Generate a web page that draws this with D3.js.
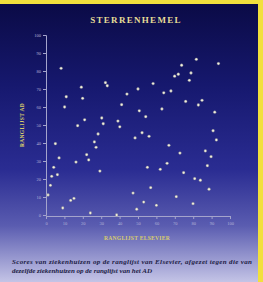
<!DOCTYPE html>
<html>
<head>
<meta charset="utf-8">
<script src="https://cdn.jsdelivr.net/npm/d3@7"></script>
<style>
  body { margin: 0; padding: 0; overflow: hidden; }
  svg { display: block; }
</style>
</head>
<body>
<script>
// ranglijst Elsevier (x) tegen ranglijst AD (y)
let elsevier = [8.2, 19.2, 11, 19.9, 10.1, 32.3, 33.3, 44, 41.1, 50, 50.7, 21, 30.3, 39.1, 31.1, 17.2, 40.1, 28.3,
  81.7, 93.7, 73.7, 71.9, 69.9, 78.8, 77.9, 58.2, 64, 67.9, 75.9, 84.8, 82.8, 91.7, 63, 54.2, 90.8, 52.2, 56, 48.4,
  92.6, 66.8, 72.8, 86.6, 89.7, 65.8, 55.1, 62.1, 87.7, 74.8, 80.8, 83.9, 56.9, 88.6, 70.8, 53.1, 60, 79.9, 49.3, 47.3,
  5.1, 26.3, 27.2, 22.1, 23.2, 16.3, 7.1, 4.2, 6.2, 3.1, 2.4, 1.1, 29.3, 9.1, 13.4, 15.2, 24.1, 38.4]
let ad = [81.5, 71, 65.7, 64.8, 60, 73.5, 71.8, 67.2, 61.3, 70, 57.9, 52.9, 53.9, 52.2, 50.7, 49.6, 49, 45,
  86.5, 84.1, 83.2, 78.2, 77.1, 78.9, 74.8, 73, 67.9, 68.9, 63.1, 63.7, 61.1, 57.1, 58.9, 54.6, 46.8, 45.7, 43.7, 42.8,
  41.7, 38.7, 34.4, 35.6, 32.4, 28.7, 26.5, 25.4, 27.4, 23.5, 20.2, 19.3, 15.2, 14.3, 10.2, 7.2, 5.4, 6.3, 3.2, 12.2,
  39.6, 40.6, 37.6, 33.5, 30.6, 29.4, 31.7, 26.5, 22.4, 21.5, 16.5, 11.1, 24.4, 3.9, 8.1, 9.2, 1.1, 0]
let ticks = [0, 10, 20, 30, 40, 50, 60, 70, 80, 90, 100]

let title = 'STERRENHEMEL'
let xTitle = 'RANGLIJST ELSEVIER'
let yTitle = 'RANGLIJST AD'
let caption = ['Scores van ziekenhuizen op de ranglijst van Elsevier, afgezet tegen die van',
  'dezelfde ziekenhuizen op de ranglijst van het AD']

let w = 263, h = 282
let serif = '"Liberation Serif", "DejaVu Serif", serif'

let svg = d3.select('body').append('svg')
  .attr('width', w)
  .attr('height', h)

let defs = svg.append('defs')
let grad = defs.append('linearGradient')
  .attr('id', 'bg')
  .attr('x1', 0).attr('y1', 0).attr('x2', 0).attr('y2', 1)
grad.selectAll('stop')
  .data([[0, '#0a0a44'], [0.3, '#16186e'], [0.6, '#2a2c92'], [0.8, '#5a5cb0'], [1, '#c4c4e6']])
  .enter().append('stop')
  .attr('offset', d => d[0])
  .attr('stop-color', d => d[1])

svg.append('rect')
  .attr('width', w).attr('height', h)
  .attr('fill', 'url(#bg)')

// gele rand
svg.append('rect').attr('x', 0).attr('y', 0).attr('width', w).attr('height', 4).attr('fill', '#f2e03c')
svg.append('rect').attr('x', 258).attr('y', 0).attr('width', 5).attr('height', h).attr('fill', '#f2e03c')

svg.append('text')
  .attr('x', 136).attr('y', 23)
  .attr('text-anchor', 'middle')
  .attr('font-family', serif)
  .attr('font-weight', 'bold')
  .attr('font-size', 9)
  .attr('letter-spacing', 1.3)
  .attr('fill', '#e6dc96')
  .text(title)

let x = d3.scaleLinear().domain([0, 100]).range([46, 230])
let y = d3.scaleLinear().domain([0, 100]).range([215, 35])

let axisColor = '#a4a4cc'

let gy = svg.append('g')
  .attr('transform', 'translate(46,0)')
  .call(d3.axisLeft(y).tickValues(ticks).tickSize(3).tickPadding(2))
let gx = svg.append('g')
  .attr('transform', 'translate(0,216)')
  .call(d3.axisBottom(x).tickValues(ticks).tickSize(3).tickPadding(3))

svg.selectAll('.domain, .tick line')
  .attr('stroke', axisColor)
  .attr('stroke-width', 1)
svg.selectAll('.tick text')
  .attr('fill', '#b4b4d8')
  .attr('font-family', serif)
  .attr('font-size', 4.5)

svg.append('text')
  .attr('transform', 'translate(24,125) rotate(-90)')
  .attr('text-anchor', 'middle')
  .attr('font-family', serif)
  .attr('font-weight', 'bold')
  .attr('font-size', 5.5)
  .attr('letter-spacing', 0.3)
  .attr('fill', '#d8cc6c')
  .text(yTitle)

svg.append('text')
  .attr('x', 137).attr('y', 240)
  .attr('text-anchor', 'middle')
  .attr('font-family', serif)
  .attr('font-weight', 'bold')
  .attr('font-size', 5.5)
  .attr('letter-spacing', 0.3)
  .attr('fill', '#d8cc6c')
  .text(xTitle)

let pts = elsevier.map((d, i) => ({ x: d, y: ad[i] }))

svg.selectAll('circle.star')
  .data(pts)
  .enter().append('circle')
  .attr('class', 'star')
  .attr('cx', d => x(d.x))
  .attr('cy', d => y(d.y))
  .attr('r', 1.4)
  .attr('fill', '#f2f0dc')
  .attr('stroke', '#6a6a80')
  .attr('stroke-width', 0.4)

svg.selectAll('text.cap')
  .data(caption)
  .enter().append('text')
  .attr('class', 'cap')
  .attr('x', 12)
  .attr('y', (d, i) => 264 + i * 9)
  .attr('font-family', serif)
  .attr('font-style', 'italic')
  .attr('font-weight', 'bold')
  .attr('font-size', 7)
  .attr('fill', '#1c1c44')
  .text(d => d)
  .each(function (d, i) {
    if (i == 0) d3.select(this).attr('textLength', 240).attr('lengthAdjust', 'spacing')
  })
</script>
</body>
</html>
